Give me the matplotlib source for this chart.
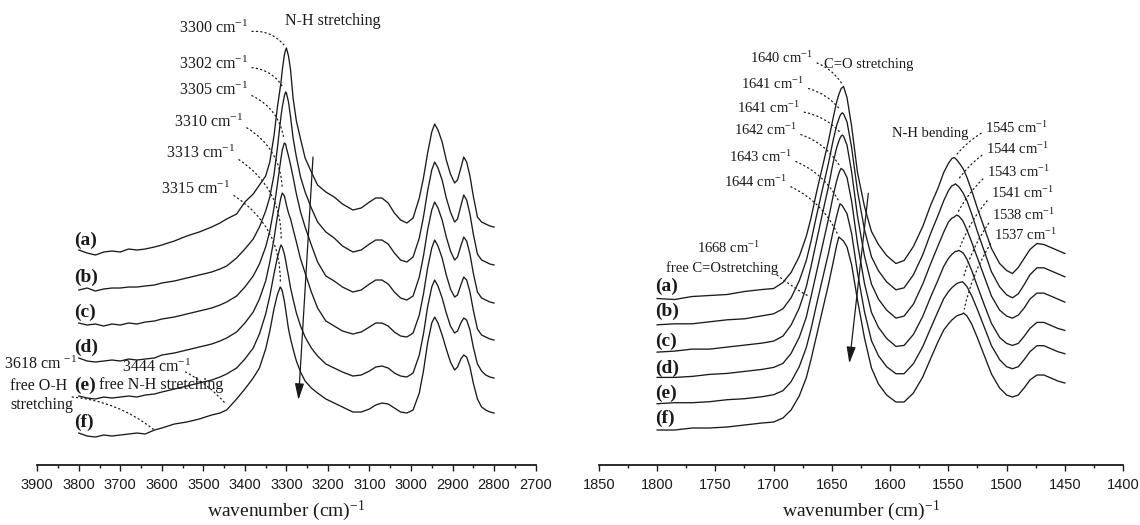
import matplotlib
matplotlib.use('Agg')
import matplotlib.pyplot as plt
import numpy as np
from matplotlib.ticker import MultipleLocator

plt.rcParams['font.family'] = ['Liberation Serif', 'DejaVu Serif']
plt.rcParams['mathtext.default'] = 'regular'

# ---------------- 3800-2800 cm-1 : N-H / C-H stretching ----------------
wn_stretch = [3800, 3780, 3760, 3740, 3720, 3700, 3680, 3660, 3640, 3618,
              3600, 3570, 3540, 3510, 3480, 3460, 3444, 3420, 3400, 3380,
              3365, 3350, 3340, 3330, 3322, 3315, 3313, 3310, 3305, 3302,
              3300, 3295, 3290, 3284, 3276, 3266, 3255, 3240, 3225, 3205,
              3185, 3165, 3140, 3120, 3100, 3085, 3070, 3055, 3040, 3025,
              3010, 2995, 2980, 2970, 2960, 2950, 2943, 2935, 2925, 2915,
              2905, 2895, 2888, 2880, 2873, 2866, 2858, 2850, 2840, 2830,
              2820, 2810, 2800]

stretch_a = [-0.02, -0.05, -0.07, -0.04, -0.03, -0.04, -0.01, -0.02, -0.01, 0.01,
             0.03, 0.07, 0.12, 0.16, 0.21, 0.25, 0.29, 0.34, 0.46, 0.54,
             0.63, 0.72, 0.86, 1.12, 1.40, 1.60, 1.66, 1.78, 1.93, 1.98,
             2.00, 1.92, 1.78, 1.50, 1.27, 1.09, 0.90, 0.76, 0.63, 0.56,
             0.51, 0.44, 0.38, 0.40, 0.46, 0.50, 0.50, 0.45, 0.35, 0.28,
             0.25, 0.30, 0.50, 0.70, 0.95, 1.16, 1.24, 1.18, 1.06, 0.88,
             0.74, 0.65, 0.68, 0.80, 0.91, 0.86, 0.72, 0.52, 0.31, 0.26,
             0.24, 0.22, 0.21]
stretch_b = [-0.05, -0.03, -0.06, -0.04, -0.03, -0.03, -0.02, -0.02, -0.01, 0.00,
             0.02, 0.04, 0.07, 0.10, 0.13, 0.16, 0.19, 0.27, 0.36, 0.46,
             0.58, 0.74, 0.88, 1.10, 1.36, 1.62, 1.69, 1.78, 1.89, 1.93,
             1.92, 1.83, 1.68, 1.47, 1.28, 1.08, 0.93, 0.77, 0.63, 0.53,
             0.47, 0.39, 0.33, 0.35, 0.41, 0.45, 0.45, 0.41, 0.32, 0.25,
             0.23, 0.28, 0.47, 0.68, 0.94, 1.15, 1.23, 1.17, 1.05, 0.87,
             0.73, 0.63, 0.66, 0.79, 0.90, 0.85, 0.71, 0.51, 0.31, 0.25,
             0.23, 0.21, 0.20]
stretch_c = [-0.01, -0.03, -0.02, -0.04, -0.02, -0.03, -0.01, -0.02, 0.00, 0.01,
             0.03, 0.05, 0.08, 0.11, 0.14, 0.17, 0.20, 0.26, 0.35, 0.46,
             0.58, 0.75, 0.91, 1.14, 1.37, 1.58, 1.64, 1.72, 1.79, 1.78,
             1.74, 1.66, 1.57, 1.45, 1.28, 1.10, 0.95, 0.77, 0.60, 0.46,
             0.41, 0.35, 0.30, 0.32, 0.38, 0.42, 0.42, 0.38, 0.30, 0.24,
             0.22, 0.26, 0.45, 0.66, 0.92, 1.12, 1.20, 1.14, 1.02, 0.85,
             0.71, 0.62, 0.65, 0.76, 0.85, 0.81, 0.68, 0.49, 0.30, 0.24,
             0.22, 0.20, 0.19]
stretch_d = [0.01, -0.02, -0.03, -0.02, -0.01, -0.02, 0.00, -0.01, 0.00, 0.01,
             0.04, 0.06, 0.09, 0.12, 0.15, 0.18, 0.21, 0.27, 0.36, 0.47,
             0.60, 0.78, 0.97, 1.20, 1.42, 1.58, 1.62, 1.66, 1.63, 1.58,
             1.54, 1.46, 1.40, 1.30, 1.17, 1.00, 0.86, 0.67, 0.51, 0.38,
             0.33, 0.28, 0.25, 0.27, 0.32, 0.36, 0.36, 0.33, 0.27, 0.23,
             0.22, 0.26, 0.44, 0.65, 0.91, 1.11, 1.19, 1.13, 1.01, 0.84,
             0.70, 0.62, 0.64, 0.74, 0.82, 0.79, 0.67, 0.49, 0.30, 0.24,
             0.22, 0.20, 0.19]
stretch_e = [0.00, -0.02, -0.03, -0.01, -0.02, -0.01, 0.00, -0.01, 0.01, 0.02,
             0.04, 0.07, 0.10, 0.13, 0.16, 0.19, 0.22, 0.28, 0.37, 0.48,
             0.62, 0.82, 1.00, 1.22, 1.38, 1.49, 1.51, 1.49, 1.42, 1.36,
             1.31, 1.20, 1.08, 0.97, 0.83, 0.70, 0.59, 0.48, 0.40, 0.32,
             0.28, 0.24, 0.20, 0.21, 0.25, 0.29, 0.30, 0.28, 0.23, 0.20,
             0.19, 0.23, 0.41, 0.62, 0.89, 1.09, 1.16, 1.10, 0.98, 0.83,
             0.70, 0.63, 0.65, 0.73, 0.78, 0.76, 0.66, 0.49, 0.32, 0.25,
             0.21, 0.19, 0.18]
stretch_f = [0.00, -0.03, -0.04, -0.02, -0.03, -0.02, -0.01, 0.00, -0.01, 0.03,
             0.05, 0.09, 0.11, 0.14, 0.18, 0.20, 0.23, 0.34, 0.44, 0.55,
             0.65, 0.84, 1.02, 1.24, 1.38, 1.46, 1.45, 1.42, 1.32, 1.24,
             1.18, 1.04, 0.94, 0.84, 0.72, 0.61, 0.52, 0.45, 0.40, 0.34,
             0.30, 0.26, 0.21, 0.21, 0.24, 0.28, 0.30, 0.29, 0.25, 0.21,
             0.20, 0.23, 0.40, 0.62, 0.90, 1.10, 1.16, 1.10, 0.98, 0.84,
             0.71, 0.63, 0.66, 0.74, 0.78, 0.76, 0.66, 0.50, 0.34, 0.26,
             0.23, 0.21, 0.20]
nh_stretch_peaks = [3300, 3302, 3305, 3310, 3313, 3315]

# ---------------- 1800-1450 cm-1 : amide region ----------------
wn_amide = [1800, 1785, 1770, 1755, 1740, 1725, 1710, 1700, 1692, 1685,
            1678, 1672, 1668, 1663, 1658, 1653, 1649, 1646, 1644, 1643,
            1642, 1641, 1640, 1637, 1633, 1628, 1622, 1616, 1610, 1603,
            1595, 1588, 1580, 1572, 1565, 1559, 1554, 1550, 1547, 1545,
            1544, 1543, 1541, 1538, 1537, 1534, 1530, 1525, 1519, 1513,
            1506, 1500, 1495, 1490, 1485, 1480, 1474, 1468, 1462, 1456,
            1450]

amide_a = [0.00, -0.01, 0.02, 0.03, 0.04, 0.07, 0.09, 0.10, 0.16, 0.26,
           0.42, 0.62, 0.80, 1.07, 1.32, 1.57, 1.80, 1.96, 2.04, 2.07,
           2.10, 2.11, 2.12, 2.01, 1.72, 1.26, 0.92, 0.67, 0.54, 0.43,
           0.35, 0.38, 0.52, 0.72, 0.94, 1.10, 1.26, 1.35, 1.40, 1.41,
           1.40, 1.39, 1.36, 1.31, 1.29, 1.21, 1.08, 0.90, 0.70, 0.50,
           0.35, 0.28, 0.25, 0.31, 0.40, 0.49, 0.55, 0.54, 0.51, 0.48,
           0.45]
amide_b = [0.00, 0.01, 0.01, 0.03, 0.05, 0.06, 0.09, 0.11, 0.16, 0.27,
           0.44, 0.64, 0.83, 1.10, 1.36, 1.61, 1.84, 1.99, 2.06, 2.09,
           2.11, 2.12, 2.11, 2.03, 1.77, 1.34, 0.95, 0.68, 0.54, 0.43,
           0.35, 0.37, 0.50, 0.70, 0.92, 1.09, 1.24, 1.34, 1.39, 1.40,
           1.41, 1.40, 1.38, 1.33, 1.31, 1.24, 1.11, 0.93, 0.73, 0.53,
           0.38, 0.30, 0.27, 0.31, 0.40, 0.50, 0.57, 0.57, 0.54, 0.51,
           0.48]
amide_c = [-0.01, 0.00, 0.02, 0.02, 0.04, 0.06, 0.08, 0.10, 0.15, 0.26,
           0.43, 0.64, 0.84, 1.11, 1.38, 1.64, 1.88, 2.03, 2.10, 2.13,
           2.15, 2.16, 2.15, 2.06, 1.79, 1.35, 0.95, 0.67, 0.52, 0.41,
           0.33, 0.35, 0.47, 0.67, 0.88, 1.05, 1.19, 1.29, 1.33, 1.34,
           1.35, 1.36, 1.35, 1.31, 1.29, 1.21, 1.09, 0.93, 0.74, 0.55,
           0.41, 0.35, 0.33, 0.36, 0.43, 0.52, 0.58, 0.58, 0.55, 0.52,
           0.49]
amide_d = [0.00, 0.00, 0.01, 0.03, 0.04, 0.06, 0.08, 0.10, 0.14, 0.24,
           0.40, 0.60, 0.80, 1.06, 1.32, 1.58, 1.81, 1.96, 2.04, 2.07,
           2.09, 2.08, 2.07, 2.00, 1.76, 1.34, 0.94, 0.65, 0.50, 0.39,
           0.31, 0.32, 0.43, 0.61, 0.81, 0.97, 1.11, 1.19, 1.23, 1.25,
           1.26, 1.26, 1.27, 1.25, 1.24, 1.18, 1.07, 0.91, 0.72, 0.54,
           0.40, 0.34, 0.32, 0.34, 0.41, 0.49, 0.55, 0.55, 0.52, 0.49,
           0.47]
amide_e = [0.00, 0.01, 0.01, 0.02, 0.04, 0.05, 0.07, 0.09, 0.13, 0.22,
           0.37, 0.56, 0.74, 1.00, 1.25, 1.50, 1.72, 1.87, 1.96, 2.00,
           1.99, 1.98, 1.96, 1.90, 1.70, 1.31, 0.92, 0.63, 0.48, 0.37,
           0.30, 0.30, 0.40, 0.57, 0.76, 0.92, 1.05, 1.12, 1.16, 1.18,
           1.19, 1.20, 1.21, 1.22, 1.21, 1.17, 1.08, 0.94, 0.76, 0.58,
           0.44, 0.37, 0.35, 0.37, 0.44, 0.52, 0.58, 0.58, 0.55, 0.52,
           0.50]
amide_f = [0.00, 0.00, 0.02, 0.02, 0.03, 0.05, 0.07, 0.08, 0.12, 0.20,
           0.34, 0.52, 0.70, 0.95, 1.20, 1.45, 1.67, 1.84, 1.93, 1.92,
           1.91, 1.90, 1.89, 1.83, 1.65, 1.30, 0.92, 0.62, 0.46, 0.35,
           0.28, 0.28, 0.37, 0.53, 0.72, 0.88, 1.00, 1.06, 1.10, 1.12,
           1.13, 1.14, 1.15, 1.16, 1.17, 1.14, 1.06, 0.92, 0.74, 0.56,
           0.42, 0.35, 0.33, 0.35, 0.42, 0.50, 0.55, 0.55, 0.52, 0.49,
           0.47]
co_stretch_peaks = [1640, 1641, 1641, 1642, 1643, 1644]
nh_bend_peaks = [1545, 1544, 1543, 1541, 1538, 1537]

sample_names = ['(a)', '(b)', '(c)', '(d)', '(e)', '(f)']

# ---------------- layout ----------------
BLACK = '#1a1a1a'
stretch_curves = [stretch_a, stretch_b, stretch_c, stretch_d, stretch_e, stretch_f]
amide_curves = [amide_a, amide_b, amide_c, amide_d, amide_e, amide_f]
stretch_offset = [0.315 + 0.37 * (5 - i) for i in range(6)]
amide_offset = [0.345 + 0.263 * (5 - i) for i in range(6)]

fig = plt.figure(figsize=(11.4, 5.25), dpi=100)
ax1 = fig.add_axes([0.0327, 0.1152, 0.4371, 0.8848])
ax2 = fig.add_axes([0.5253, 0.1152, 0.4599, 0.8848])

for ax, lim, major, minor in ((ax1, (3900, 2700), 100, 50), (ax2, (1850, 1400), 50, 25)):
    ax.set_xlim(*lim)
    ax.set_ylim(0, 4.645)
    ax.patch.set_visible(False)
    for side in ('top', 'left', 'right'):
        ax.spines[side].set_visible(False)
    ax.spines['bottom'].set_linewidth(1.3)
    ax.spines['bottom'].set_color(BLACK)
    ax.set_yticks([])
    ax.xaxis.set_major_locator(MultipleLocator(major))
    ax.xaxis.set_minor_locator(MultipleLocator(minor))
    ax.tick_params(axis='x', which='major', direction='out', length=4, width=1,
                   pad=5.5, labelsize=10.5, labelfontfamily='Liberation Sans', colors=BLACK)
    ax.tick_params(axis='x', which='minor', direction='out', length=2.5, width=1, colors=BLACK)
    ax.set_xlabel('wavenumber (cm)$^{-1}$', fontsize=14, labelpad=5, color=BLACK)

dots = (0, (1, 2.5))


def leader(ax, text, xy, xytext, ha, rad, relpos, size):
    ax.annotate(text, xy=xy, xytext=xytext, ha=ha, va='baseline', fontsize=size,
                color=BLACK,
                arrowprops=dict(arrowstyle='-', linestyle=dots, lw=0.9, color=BLACK,
                                connectionstyle=f'arc3,rad={rad}', relpos=relpos,
                                shrinkA=1, shrinkB=3))


# left panel: spectra
for vals, off in zip(stretch_curves, stretch_offset):
    ax1.plot(wn_stretch, np.array(vals) + off, color=BLACK, lw=0.95)

name_y1 = [2.245, 1.875, 1.525, 1.175, 0.795, 0.425]
for name, y in zip(sample_names, name_y1):
    ax1.text(3812, y, name, fontsize=14, fontweight='bold', ha='left', va='center', color=BLACK)

ax1.text(3303, 4.395, 'N-H stretching', fontsize=11.5, ha='left', va='baseline', color=BLACK)

stretch_label_pos = [(3393, 4.315), (3393, 3.96), (3393, 3.695),
                     (3405, 3.378), (3424, 3.062), (3436, 2.702)]
for peak, vals, off, pos in zip(nh_stretch_peaks, stretch_curves, stretch_offset, stretch_label_pos):
    top = vals[wn_stretch.index(peak)] + off
    leader(ax1, f'{peak} cm$^{{-1}}$', (peak, top), pos, 'right', -0.3, (1.0, 0.3), 11.5)

# free O-H and free N-H shoulders on (f)
f_off = stretch_offset[5]
ax1.text(3893, 0.952, '3618 cm $^{-1}$', fontsize=11.5, ha='center', va='baseline', color=BLACK)
ax1.text(3896, 0.745, 'free O-H', fontsize=11.5, ha='center', va='baseline', color=BLACK)
ax1.text(3888, 0.552, 'stretching', fontsize=11.5, ha='center', va='baseline', color=BLACK)
ax1.annotate('', xy=(3618, stretch_f[wn_stretch.index(3618)] + f_off), xytext=(3816, 0.675),
             arrowprops=dict(arrowstyle='-', linestyle=dots, lw=0.9, color=BLACK,
                             connectionstyle='arc3,rad=-0.15', shrinkA=0, shrinkB=1))
ax1.text(3614, 0.928, '3444 cm$^{-1}$', fontsize=11.5, ha='center', va='baseline', color=BLACK)
ax1.text(3602, 0.752, 'free N-H stretching', fontsize=11.5, ha='center', va='baseline', color=BLACK)
ax1.annotate('', xy=(3444, stretch_f[wn_stretch.index(3444)] + f_off + 0.05), xytext=(3543, 0.925),
             arrowprops=dict(arrowstyle='-', linestyle=dots, lw=0.9, color=BLACK,
                             connectionstyle='arc3,rad=-0.1', shrinkA=0, shrinkB=1))

# shift trend arrow
ax1.annotate('', xy=(3271, 0.645), xytext=(3236, 3.075),
             arrowprops=dict(arrowstyle='-|>,head_length=0.9,head_width=0.25', lw=0.9,
                             color=BLACK, shrinkA=0, shrinkB=0, mutation_scale=11))

# right panel: spectra
for vals, off in zip(amide_curves, amide_offset):
    ax2.plot(wn_amide, np.array(vals) + off, color=BLACK, lw=0.95)

name_y2 = [1.778, 1.528, 1.228, 0.962, 0.712, 0.462]
for name, y in zip(sample_names, name_y2):
    ax2.text(1802, y, name, fontsize=14, fontweight='bold', ha='left', va='center', color=BLACK)

ax2.text(1656.6, 3.968, 'C=O stretching', fontsize=10.5, ha='left', va='baseline', color=BLACK)
ax2.text(1598.6, 3.278, 'N-H bending', fontsize=10.5, ha='left', va='baseline', color=BLACK)

co_label_pos = [(1666.2, 4.012), (1673.6, 3.752), (1677.3, 3.512),
                (1680.1, 3.295), (1684.4, 3.028), (1688.7, 2.778)]
for peak, vals, off, pos in zip(co_stretch_peaks, amide_curves, amide_offset, co_label_pos):
    top = vals[wn_amide.index(peak)] + off
    leader(ax2, f'{peak} cm$^{{-1}}$', (peak, top), pos, 'right', -0.2, (1.0, 0.3), 10.5)

bend_label_pos = [(1518.5, 3.318), (1517.9, 3.102), (1517.1, 2.872),
                  (1513.6, 2.662), (1512.3, 2.445), (1510.8, 2.245)]
for peak, vals, off, pos in zip(nh_bend_peaks, amide_curves, amide_offset, bend_label_pos):
    top = vals[wn_amide.index(peak)] + off
    leader(ax2, f'{peak} cm$^{{-1}}$', (peak, top), pos, 'left', 0.1, (0.0, 0.3), 10.5)

ax2.text(1739, 2.118, '1668 cm$^{-1}$', fontsize=10.5, ha='center', va='baseline', color=BLACK)
ax2.text(1744.5, 1.928, 'free C=Ostretching', fontsize=10.5, ha='center', va='baseline', color=BLACK)
ax2.annotate('', xy=(1668, amide_d[wn_amide.index(1668)] + amide_offset[3]), xytext=(1697, 1.895),
             arrowprops=dict(arrowstyle='-', linestyle=dots, lw=0.9, color=BLACK,
                             connectionstyle='arc3,rad=0.05', shrinkA=0, shrinkB=1))

ax2.annotate('', xy=(1635, 1.012), xytext=(1618.7, 2.712),
             arrowprops=dict(arrowstyle='-|>,head_length=0.9,head_width=0.25', lw=0.9,
                             color=BLACK, shrinkA=0, shrinkB=0, mutation_scale=11))

fig.savefig('out.png', dpi=100, facecolor='white')
